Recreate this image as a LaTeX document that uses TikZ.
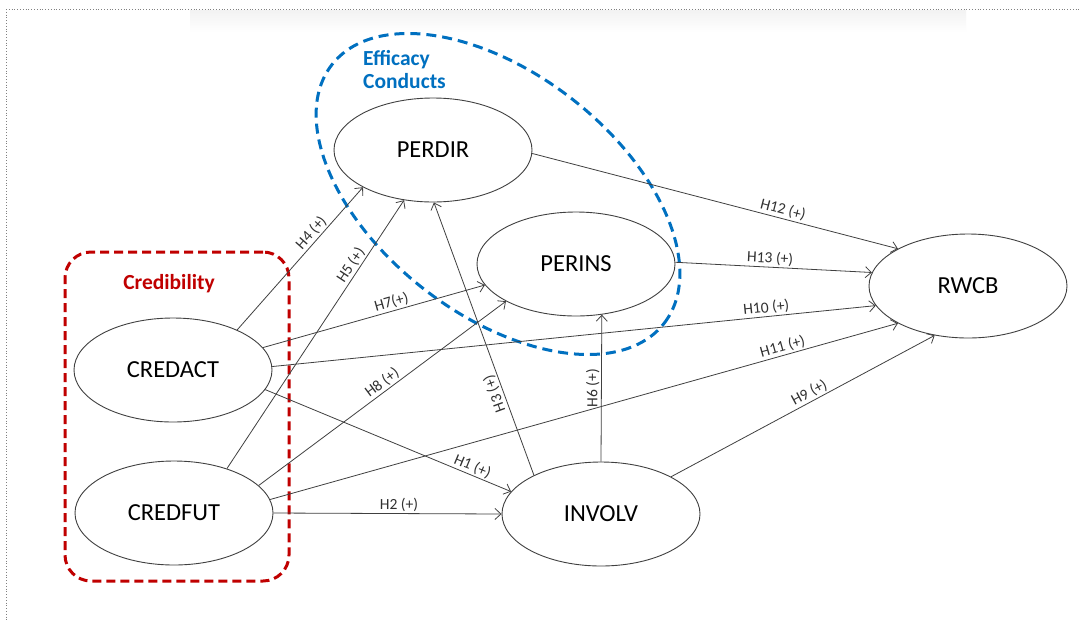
\documentclass[tikz,border=0pt]{standalone}
\usepackage{fontspec}
\setmainfont{Carlito}
\usetikzlibrary{shapes.geometric,arrows.meta}
\definecolor{credred}{HTML}{C00000}
\definecolor{effblue}{HTML}{0070C0}
\definecolor{linegray}{HTML}{404040}
\definecolor{labelgray}{HTML}{303030}

\begin{document}
\begin{tikzpicture}[x=1pt,y=-1pt,
  construct/.style={ellipse, draw=linegray, line width=0.9pt, fill=white,
    minimum width=198pt, minimum height=104pt, inner sep=0pt,
    font=\fontsize{24.5}{28}\selectfont},
  link/.style={draw=linegray, line width=0.8pt,
    -{Straight Barb[length=6pt,width=11pt,line width=0.8pt]}},
  hlabel/.style={font=\fontsize{15.5}{18}\selectfont, text=labelgray,
    sloped, above, inner sep=1.5pt},
  grouplabel/.style={font=\bfseries\fontsize{21.5}{23.5}\selectfont, inner sep=0pt}
]
\useasboundingbox (0,0) rectangle (1079,622);
\fill[white] (0,0) rectangle (1079,622);

% page frame with its soft top shadow
\shade[top color=black!5, bottom color=white] (190,10) rectangle (966,32);
\draw[gray, dotted, line width=0.8pt] (6,9) -- (1079,9);
\draw[gray, dotted, line width=0.8pt] (6,9) -- (6,622);

% group outlines
\node[draw=credred, line width=3pt, dash pattern=on 9pt off 5pt,
  rounded corners=26pt, minimum width=224pt, minimum height=329pt,
  inner sep=0pt] (credgroup) at (177,416.5) {};
\node[ellipse, draw=effblue, line width=3pt, dash pattern=on 10pt off 6pt,
  minimum width=421pt, minimum height=241pt, inner sep=0pt,
  rotate=-37.9] (effgroup) at (498,194) {};

\node[grouplabel, text=credred] (credlabel) at (169,284) {Credibility};
\node[grouplabel, text=effblue, align=left, anchor=north west]
  (efflabel) at (363,50) {Efficacy\\Conducts};

% constructs
\node[construct] (PERDIR) at (433,150) {PERDIR};
\node[construct] (PERINS) at (576,264) {PERINS};
\node[construct] (RWCB) at (968,286) {RWCB};
\node[construct] (CREDACT) at (173,370) {CREDACT};
\node[construct] (CREDFUT) at (174,513) {CREDFUT};
\node[construct] (INVOLV) at (601,514) {INVOLV};

% hypothesised paths
\draw[link] (CREDACT.-12) -- node[hlabel, pos=0.83] {H1 (+)} (INVOLV.166);
\draw[link] (CREDFUT.east) -- node[hlabel, pos=0.55] {H2 (+)} (INVOLV.west);
\draw[link] (INVOLV.150) -- node[hlabel, pos=0.31, allow upside down] {H3 (+)} (PERDIR.271);
\draw[link] (CREDACT.32) -- node[hlabel, pos=0.64] {H4 (+)} (PERDIR.208.5);
\draw[link] (CREDFUT.40) -- node[hlabel, pos=0.74] {H5 (+)} (PERDIR.240.5);
\draw[link] (INVOLV.north) -- node[hlabel, pos=0.5, allow upside down] {H6 (+)} (PERINS.-63);
\draw[link] (CREDACT.14) -- node[hlabel, pos=0.59] {H7(+)} (PERINS.193);
\draw[link] (CREDFUT.18) -- node[hlabel, pos=0.52] {H8 (+)} (PERINS.208);
\draw[link] (INVOLV.28) -- node[hlabel, pos=0.54] {H9 (+)} (RWCB.236);
\draw[link] (CREDACT.2) -- node[hlabel, pos=0.82] {H10 (+)} (RWCB.192.8);
\draw[link] (CREDFUT.8) -- node[hlabel, pos=0.82] {H11 (+)} (RWCB.208.8);
\draw[link] (PERDIR.-2) -- node[hlabel, pos=0.68] {H12 (+)} (RWCB.152.5);
\draw[link] (PERINS.1) -- node[hlabel, pos=0.48] {H13 (+)} (RWCB.172);
\end{tikzpicture}
\end{document}
